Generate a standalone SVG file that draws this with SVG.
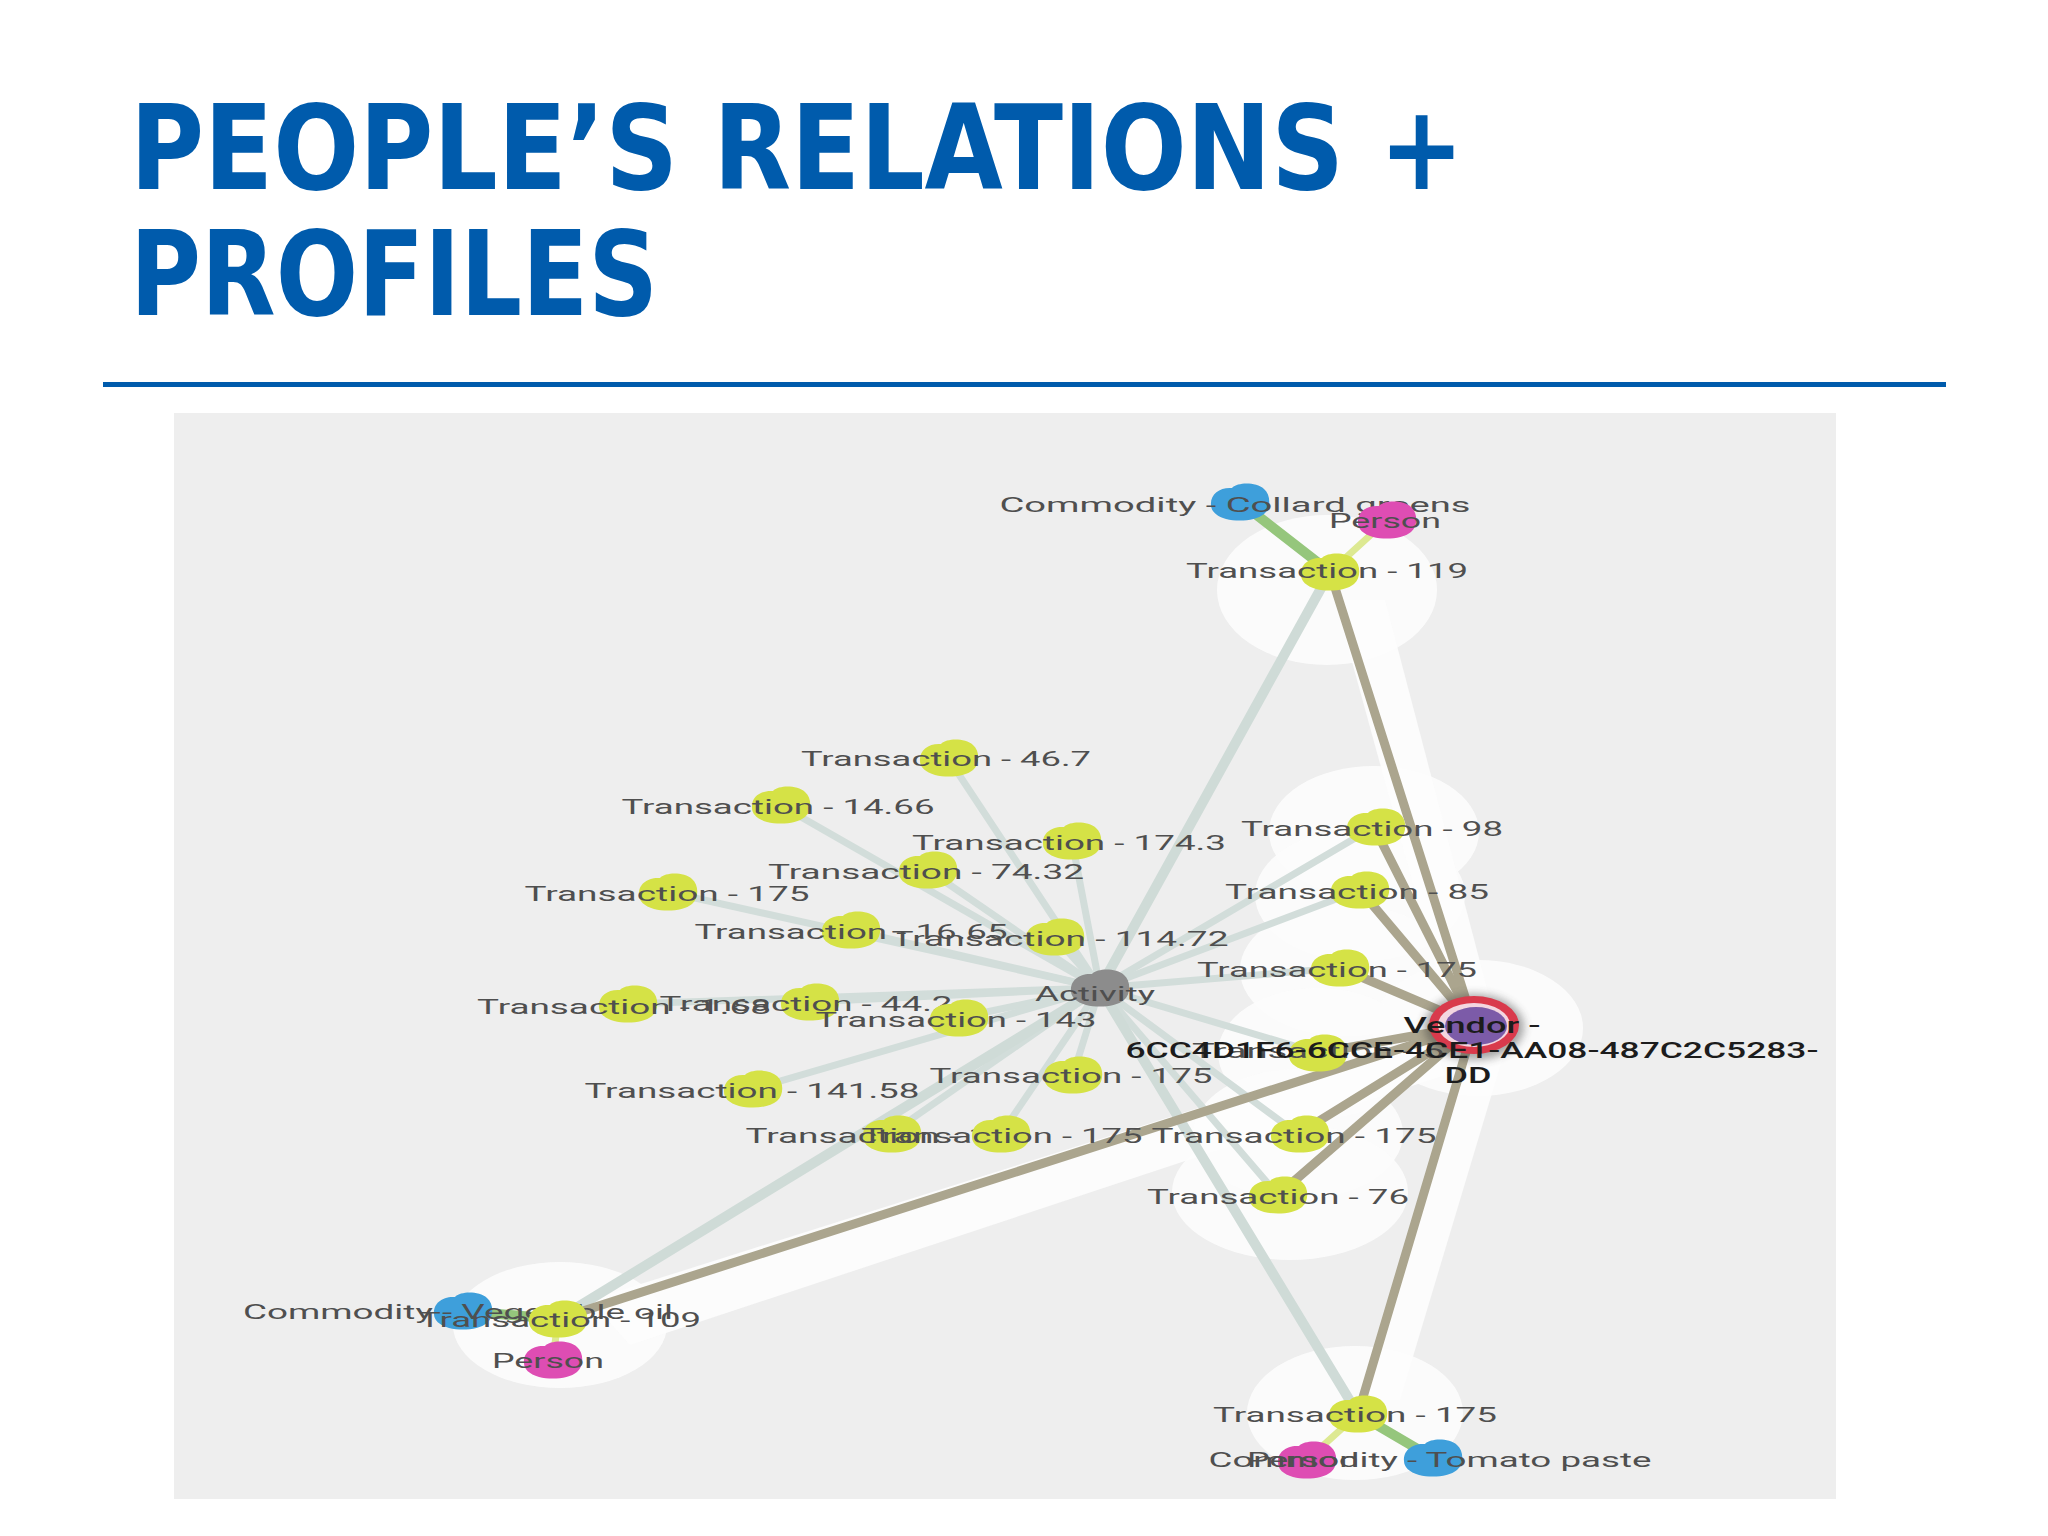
<svg xmlns="http://www.w3.org/2000/svg" xmlns:xlink="http://www.w3.org/1999/xlink" width="2048" height="1536" viewBox="0 0 2048 1536">
<defs>
<style>
.title{font-family:"DejaVu Sans Condensed","DejaVu Sans","Liberation Sans",sans-serif;font-weight:bold;font-stretch:condensed;font-size:117px;fill:#005BAC}
.lbl{font-family:Roboto,"Liberation Sans",sans-serif;font-size:21px;fill:#4f4f4f;text-anchor:middle}
.vlbl{font-family:Roboto,"Liberation Sans",sans-serif;font-size:22px;font-weight:500;fill:#1c1c1c;text-anchor:middle}
.tx{fill:#D5E246}
.cm{fill:#3E9FDB}
.ps{fill:#DE4DB3}
.ac{fill:#8C8C8C}
.halo{fill:#FCFCFC;opacity:0.94}
.band{fill:#FDFDFD;opacity:0.9}
.ea{stroke:#D2DDDA;stroke-width:7;stroke-linecap:round;fill:none}
.eaw{stroke:#CFDBD7;stroke-width:10;stroke-linecap:round;fill:none}
.ev{stroke:#ABA58E;stroke-width:9;stroke-linecap:round;fill:none}
.eg{stroke:#95C67C;stroke-width:10;stroke-linecap:round;fill:none}
.ey{stroke:#DDE992;stroke-width:7;stroke-linecap:round;fill:none}
</style>
<path id="blob" d="M-29,3 C-30,-8 -20,-15 -8,-14 C-2,-20 16,-20 24,-13 C31,-7 31,6 24,12 C16,19 -2,20 -14,17 C-24,14 -29,9 -29,3 Z"/>
<clipPath id="panelclip"><rect x="174" y="413" width="1662" height="1086"/></clipPath>
<filter id="blur" x="-50%" y="-50%" width="200%" height="200%"><feGaussianBlur stdDeviation="4"/></filter>
</defs>
<rect width="2048" height="1536" fill="#FFFFFF"/>
<g id="title">
<text class="title" x="130" y="189" textLength="1334" lengthAdjust="spacingAndGlyphs">PEOPLE’S RELATIONS +</text>
<text class="title" x="130" y="315" textLength="528" lengthAdjust="spacingAndGlyphs">PROFILES</text>
</g>
<rect id="rule" x="103" y="382" width="1843" height="5" fill="#005BAC"/>
<rect id="panel" x="174" y="413" width="1662" height="1086" fill="#EEEEEE"/>
<g clip-path="url(#panelclip)">
<g id="halos">
<ellipse class="halo" cx="1327" cy="590" rx="110" ry="75"/>
<ellipse class="halo" cx="1374" cy="832" rx="105" ry="66"/>
<ellipse class="halo" cx="1360" cy="895" rx="105" ry="66"/>
<ellipse class="halo" cx="1345" cy="970" rx="105" ry="66"/>
<ellipse class="halo" cx="1478" cy="1028" rx="105" ry="68"/>
<ellipse class="halo" cx="1318" cy="1053" rx="100" ry="65"/>
<ellipse class="halo" cx="1298" cy="1134" rx="105" ry="65"/>
<ellipse class="halo" cx="1290" cy="1192" rx="118" ry="68"/>
<ellipse class="halo" cx="1355" cy="1413" rx="108" ry="67"/>
<ellipse class="halo" cx="560" cy="1325" rx="107" ry="63"/>
<polygon class="band" points="590,1300 1430,1035 1445,1075 630,1345"/>
<polygon class="band" points="1335,600 1385,600 1490,1000 1445,1000"/>
<polygon class="band" points="1465,1040 1505,1050 1400,1400 1362,1400"/>
</g>
<g id="connectors">
<line class="ea" x1="1100" y1="988" x2="948" y2="758"/>
<line class="ea" x1="1100" y1="988" x2="780" y2="805"/>
<line class="ea" x1="1100" y1="988" x2="1072" y2="841"/>
<line class="ea" x1="1100" y1="988" x2="928" y2="870"/>
<line class="ea" x1="1100" y1="988" x2="668" y2="892"/>
<line class="ea" x1="1100" y1="988" x2="851" y2="930"/>
<line class="ea" x1="1100" y1="988" x2="1055" y2="937"/>
<line class="ea" x1="1100" y1="988" x2="627" y2="1004"/>
<line class="ea" x1="1100" y1="988" x2="809" y2="1002"/>
<line class="ea" x1="1100" y1="988" x2="958" y2="1018"/>
<line class="ea" x1="1100" y1="988" x2="1073" y2="1075"/>
<line class="ea" x1="1100" y1="988" x2="753" y2="1089"/>
<line class="ea" x1="1100" y1="988" x2="890" y2="1134"/>
<line class="ea" x1="1100" y1="988" x2="1001" y2="1134"/>
<line class="ea" x1="1100" y1="988" x2="1298" y2="1134"/>
<line class="ea" x1="1100" y1="988" x2="1278" y2="1195"/>
<line class="ea" x1="1100" y1="988" x2="1374" y2="827"/>
<line class="ea" x1="1100" y1="988" x2="1360" y2="890"/>
<line class="ea" x1="1100" y1="988" x2="1340" y2="968"/>
<line class="ea" x1="1100" y1="988" x2="1318" y2="1053"/>
<line class="eaw" x1="1100" y1="988" x2="1330" y2="572"/>
<line class="eaw" x1="1100" y1="988" x2="1358" y2="1414"/>
<line class="eaw" x1="1100" y1="988" x2="558" y2="1319"/>
<line class="ev" x1="1474" y1="1025" x2="1330" y2="572"/>
<line class="ev" x1="1474" y1="1025" x2="1374" y2="827"/>
<line class="ev" x1="1474" y1="1025" x2="1360" y2="890"/>
<line class="ev" x1="1474" y1="1025" x2="1340" y2="968"/>
<line class="ev" x1="1474" y1="1025" x2="1318" y2="1053"/>
<line class="ev" x1="1474" y1="1025" x2="1298" y2="1134"/>
<line class="ev" x1="1474" y1="1025" x2="1278" y2="1195"/>
<line class="ev" x1="1474" y1="1025" x2="1358" y2="1414"/>
<line class="ev" x1="1474" y1="1025" x2="558" y2="1319"/>
<line class="eg" x1="1330" y1="572" x2="1240" y2="502"/>
<line class="ey" x1="1330" y1="572" x2="1387" y2="520"/>
<line class="eg" x1="558" y1="1319" x2="463" y2="1311"/>
<line class="ey" x1="558" y1="1319" x2="553" y2="1360"/>
<line class="ey" x1="1358" y1="1414" x2="1307" y2="1460"/>
<line class="eg" x1="1358" y1="1414" x2="1433" y2="1458"/>
</g>
<g id="n-commodity-collard"><use href="#blob" x="1240" y="502" class="cm"/><text class="lbl" x="1235" y="512" textLength="471" lengthAdjust="spacingAndGlyphs">Commodity - Collard greens</text></g>
<g id="n-person-top"><use href="#blob" x="1387" y="520" class="ps"/><text class="lbl" x="1385" y="528" textLength="112" lengthAdjust="spacingAndGlyphs">Person</text></g>
<g id="n-t119"><use href="#blob" x="1330" y="572" class="tx"/><text class="lbl" x="1327" y="578" textLength="282" lengthAdjust="spacingAndGlyphs">Transaction - 119</text></g>
<g id="n-t46-7"><use href="#blob" x="949" y="758" class="tx"/><text class="lbl" x="946" y="766" textLength="290" lengthAdjust="spacingAndGlyphs">Transaction - 46.7</text></g>
<g id="n-t14-66"><use href="#blob" x="781" y="805" class="tx"/><text class="lbl" x="778" y="814" textLength="313" lengthAdjust="spacingAndGlyphs">Transaction - 14.66</text></g>
<g id="n-t174-3"><use href="#blob" x="1072" y="841" class="tx"/><text class="lbl" x="1069" y="850" textLength="314" lengthAdjust="spacingAndGlyphs">Transaction - 174.3</text></g>
<g id="n-t74-32"><use href="#blob" x="928" y="870" class="tx"/><text class="lbl" x="926" y="879" textLength="316" lengthAdjust="spacingAndGlyphs">Transaction - 74.32</text></g>
<g id="n-t175-left"><use href="#blob" x="668" y="892" class="tx"/><text class="lbl" x="667" y="901" textLength="285" lengthAdjust="spacingAndGlyphs">Transaction - 175</text></g>
<g id="n-t16-65"><use href="#blob" x="851" y="930" class="tx"/><text class="lbl" x="851" y="939" textLength="313" lengthAdjust="spacingAndGlyphs">Transaction - 16.65</text></g>
<g id="n-t114-72"><use href="#blob" x="1055" y="937" class="tx"/><text class="lbl" x="1060" y="946" textLength="337" lengthAdjust="spacingAndGlyphs">Transaction - 114.72</text></g>
<g id="n-activity"><use href="#blob" x="1100" y="988" class="ac"/><text class="lbl" x="1095" y="1001" textLength="120" lengthAdjust="spacingAndGlyphs">Activity</text></g>
<g id="n-t1-68"><use href="#blob" x="628" y="1004" class="tx"/><text class="lbl" x="624" y="1014" textLength="294" lengthAdjust="spacingAndGlyphs">Transaction - 1.68</text></g>
<g id="n-t44-2"><use href="#blob" x="810" y="1002" class="tx"/><text class="lbl" x="806" y="1011" textLength="293" lengthAdjust="spacingAndGlyphs">Transaction - 44.2</text></g>
<g id="n-t143"><use href="#blob" x="959" y="1018" class="tx"/><text class="lbl" x="956" y="1027" textLength="281" lengthAdjust="spacingAndGlyphs">Transaction - 143</text></g>
<g id="n-t98"><use href="#blob" x="1376" y="827" class="tx"/><text class="lbl" x="1372" y="836" textLength="262" lengthAdjust="spacingAndGlyphs">Transaction - 98</text></g>
<g id="n-t85"><use href="#blob" x="1360" y="890" class="tx"/><text class="lbl" x="1357" y="899" textLength="264" lengthAdjust="spacingAndGlyphs">Transaction - 85</text></g>
<g id="n-t175-c"><use href="#blob" x="1340" y="968" class="tx"/><text class="lbl" x="1337" y="977" textLength="280" lengthAdjust="spacingAndGlyphs">Transaction - 175</text></g>
<g id="n-t175-m"><use href="#blob" x="1073" y="1075" class="tx"/><text class="lbl" x="1071" y="1083" textLength="283" lengthAdjust="spacingAndGlyphs">Transaction - 175</text></g>
<g id="n-t141-58"><use href="#blob" x="753" y="1089" class="tx"/><text class="lbl" x="752" y="1098" textLength="335" lengthAdjust="spacingAndGlyphs">Transaction - 141.58</text></g>
<g id="n-t175-p1"><use href="#blob" x="892" y="1134" class="tx"/><text class="lbl" x="888" y="1143" textLength="285" lengthAdjust="spacingAndGlyphs">Transaction - 175</text></g>
<g id="n-t175-p2"><use href="#blob" x="1001" y="1134" class="tx"/><text class="lbl" x="1002" y="1143" textLength="281" lengthAdjust="spacingAndGlyphs">Transaction - 175</text></g>
<g id="n-t175-r"><use href="#blob" x="1300" y="1134" class="tx"/><text class="lbl" x="1294" y="1143" textLength="285" lengthAdjust="spacingAndGlyphs">Transaction - 175</text></g>
<g id="n-t76"><use href="#blob" x="1278" y="1195" class="tx"/><text class="lbl" x="1278" y="1204" textLength="262" lengthAdjust="spacingAndGlyphs">Transaction - 76</text></g>
<g id="n-commodity-veg"><use href="#blob" x="463" y="1311" class="cm"/><text class="lbl" x="458" y="1319" textLength="430" lengthAdjust="spacingAndGlyphs">Commodity - Vegetable oil</text></g>
<g id="n-t109"><use href="#blob" x="558" y="1319" class="tx"/><text class="lbl" x="560" y="1327" textLength="282" lengthAdjust="spacingAndGlyphs">Transaction - 109</text></g>
<g id="n-person-bl"><use href="#blob" x="553" y="1360" class="ps"/><text class="lbl" x="548" y="1368" textLength="112" lengthAdjust="spacingAndGlyphs">Person</text></g>
<g id="n-t175-b"><use href="#blob" x="1358" y="1414" class="tx"/><text class="lbl" x="1355" y="1422" textLength="284" lengthAdjust="spacingAndGlyphs">Transaction - 175</text></g>
<g id="n-person-b"><use href="#blob" x="1307" y="1460" class="ps"/><text class="lbl" x="1303" y="1467" textLength="112" lengthAdjust="spacingAndGlyphs">Person</text></g>
<g id="n-commodity-tomato"><use href="#blob" x="1433" y="1458" class="cm"/><text class="lbl" x="1430" y="1467" textLength="443" lengthAdjust="spacingAndGlyphs">Commodity - Tomato paste</text></g>
<g id="n-t5"><use href="#blob" x="1318" y="1053" class="tx"/><text class="lbl" x="1318" y="1058" textLength="252" lengthAdjust="spacingAndGlyphs">Transaction - 5</text></g>
<g id="n-vendor">
<ellipse cx="1474" cy="1027" rx="50" ry="33" fill="#3a3a3a" opacity="0.45" filter="url(#blur)"/>
<ellipse cx="1474" cy="1025" rx="45" ry="29" fill="#D93A4C"/>
<ellipse cx="1474" cy="1025" rx="36" ry="22" fill="#F3D6E0"/>
<ellipse cx="1476" cy="1026" rx="31" ry="19" fill="#7C5BA8"/>
<text class="vlbl" x="1472" y="1033" textLength="137" lengthAdjust="spacingAndGlyphs">Vendor -</text>
<text class="vlbl" x="1472" y="1058" textLength="693" lengthAdjust="spacingAndGlyphs">6CC4D1F6-6CCE-4CE1-AA08-487C2C5283-</text>
<text class="vlbl" x="1468" y="1083" textLength="47" lengthAdjust="spacingAndGlyphs">DD</text>
</g>
</g>
</svg>
